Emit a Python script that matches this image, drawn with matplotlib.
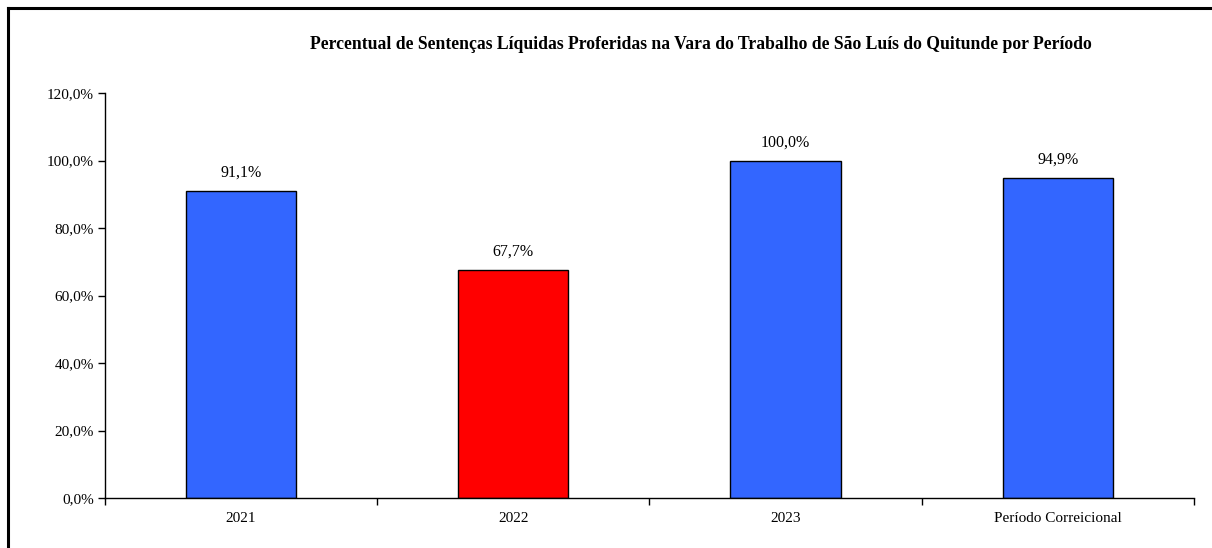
import matplotlib
matplotlib.use("Agg")
import matplotlib.pyplot as plt
from matplotlib.lines import Line2D

categories = ["2021", "2022", "2023", "Período Correicional"]
values = [91.1, 67.7, 100.0, 94.9]
colors = ["#3366FF", "#FF0000", "#3366FF", "#3366FF"]
yticks = [0, 20, 40, 60, 80, 100, 120]
title = "Percentual de Sentenças Líquidas Proferidas na Vara do Trabalho de São Luís do Quitunde por Período"

plt.rcParams["font.family"] = ["Liberation Serif", "DejaVu Serif"]

fig = plt.figure(figsize=(12.12, 5.48), dpi=100)
ax = fig.add_axes([0.0866, 0.0912, 0.8985, 0.7391])

x = list(range(len(categories)))
ax.bar(x, values, width=0.405, color=colors, edgecolor="black", linewidth=1.0, zorder=2)

def fmt(v):
    return f"{v:.1f}".replace(".", ",") + "%"

for xi, v in zip(x, values):
    ax.annotate(fmt(v), (xi, v), xytext=(0, 7), textcoords="offset points",
                ha="center", va="bottom", fontsize=11.5)

ax.set_xlim(-0.5, len(categories) - 0.5)
ax.set_ylim(0, 120)
ax.set_yticks(yticks)
ax.set_yticklabels([fmt(t) for t in yticks], fontsize=11)
ax.set_xticks(x)
ax.set_xticklabels(categories, fontsize=11)
ax.set_xticks([i - 0.5 for i in range(len(categories) + 1)], minor=True)
ax.tick_params(axis="x", which="major", length=0, pad=10)
ax.tick_params(axis="x", which="minor", length=5, direction="out", width=1)
ax.tick_params(axis="y", length=5, direction="out", width=1, pad=3)

for side in ("top", "right"):
    ax.spines[side].set_visible(False)
for side in ("left", "bottom"):
    ax.spines[side].set_linewidth(1.0)

fig.text(0.578, 0.919, title, ha="center", va="center", fontsize=12.7, fontweight="bold")

# outer frame (top and left edges)
fig.add_artist(Line2D([0.0062, 1.0], [0.9845, 0.9845], color="black", linewidth=2.2, transform=fig.transFigure))
fig.add_artist(Line2D([0.0062, 0.0062], [0.0, 0.9845], color="black", linewidth=2.2, transform=fig.transFigure))

fig.savefig("out.png", dpi=100)
